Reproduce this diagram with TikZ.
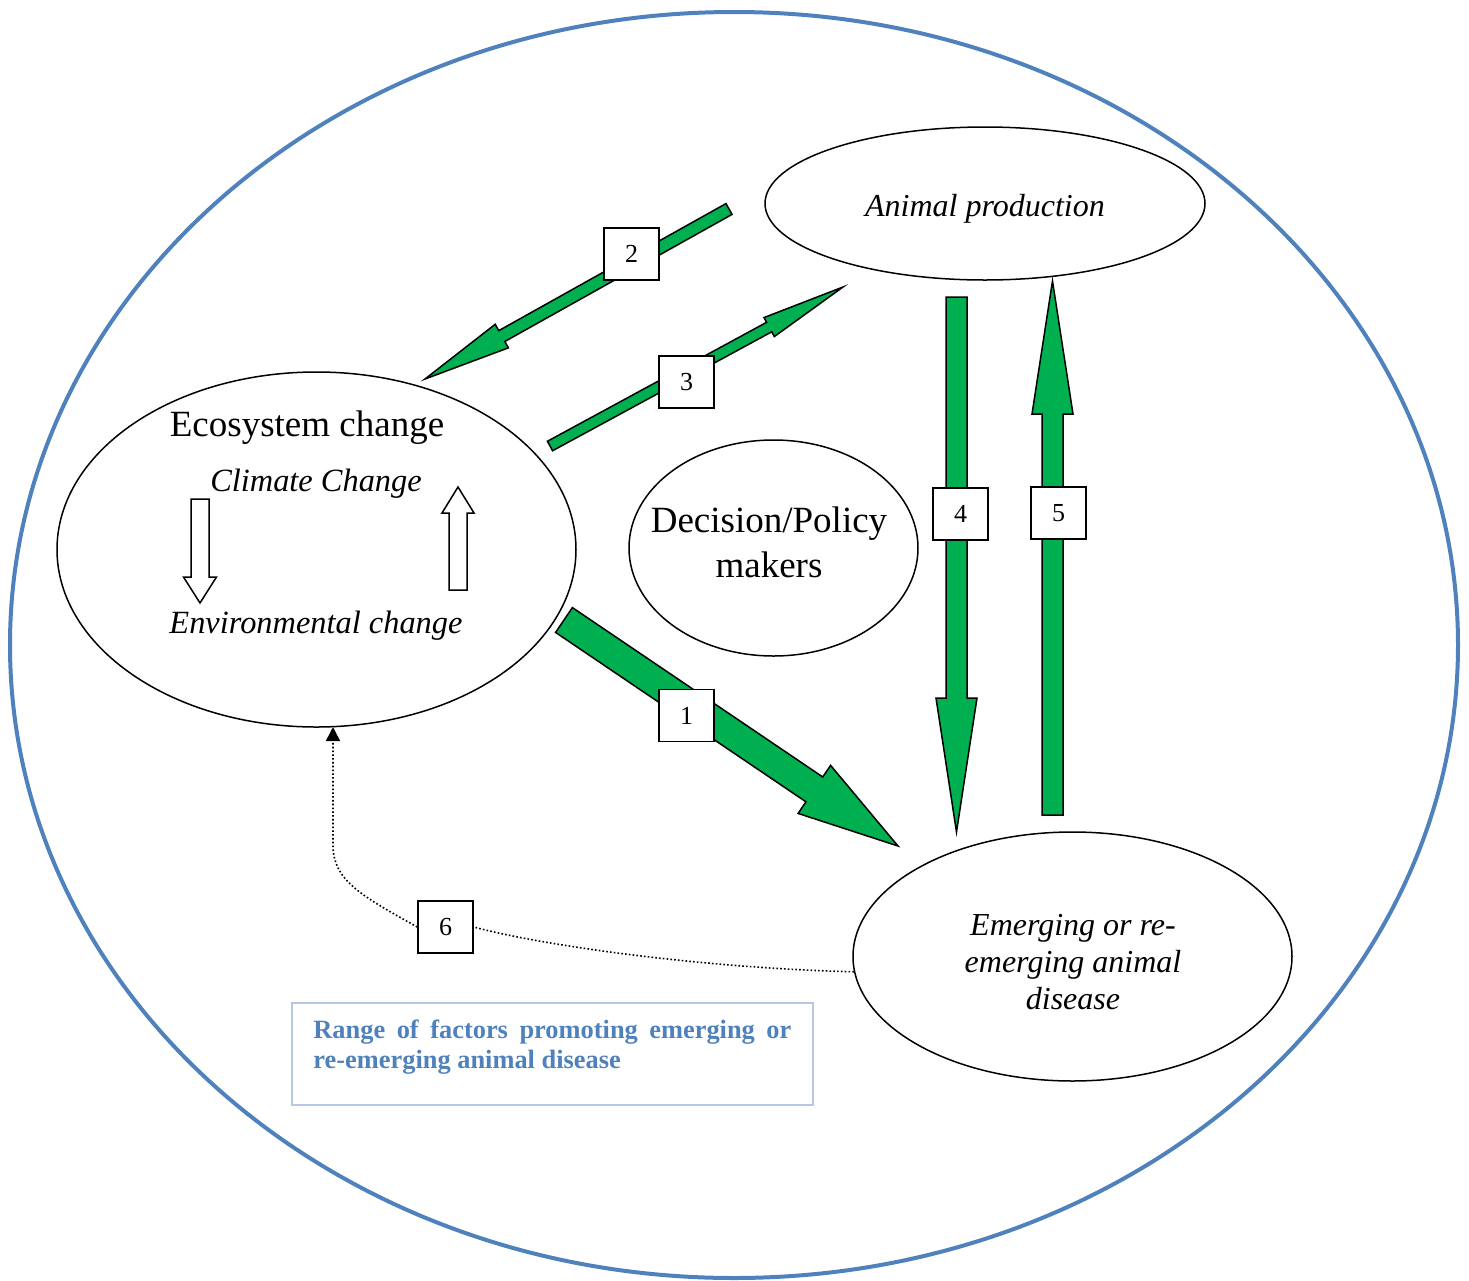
\documentclass[tikz,border=0pt]{standalone}
\usepackage{fontspec}
\setmainfont{Liberation Serif}
\usetikzlibrary{shapes.geometric,calc,arrows.meta}
\definecolor{outerblue}{HTML}{4F81BD}
\definecolor{boxblue}{HTML}{B4C7E7}
\definecolor{textblue}{HTML}{4F81BD}
\definecolor{arrowgreen}{HTML}{00B050}
\tikzset{
  ell/.style={ellipse, draw, line width=0.75pt, inner sep=0pt},
  garr/.style={draw, fill=arrowgreen, line width=0.75pt, line join=miter},
  harr/.style={draw, fill=white, line width=0.75pt, line join=miter},
  numbox/.style={draw, fill=white, line width=0.8pt, minimum width=27.5pt, minimum height=26pt, inner sep=0pt, font=\fontsize{13pt}{15pt}\selectfont},
  bigtxt/.style={font=\fontsize{18.5pt}{22.5pt}\selectfont, align=center, inner sep=0pt},
  ittxt/.style={font=\fontsize{16pt}{18.5pt}\selectfont\itshape, align=center, inner sep=0pt},
  smit/.style={font=\fontsize{16.2pt}{18pt}\selectfont\itshape, inner sep=0pt},
  dotline/.style={line width=0.8pt, dash pattern=on 0.8pt off 1.1pt},
}
% #1 style, #2 tail, #3 tip, #4 shaft half width, #5 head half width, #6 head length
\newcommand\blockarrow[6]{%
  \path ($(#3)!#6!(#2)$) coordinate (ba-b);
  \draw[#1] ($(#2)!#4!90:(#3)$) -- ($(ba-b)!#4!90:(#3)$) -- ($(ba-b)!#5!90:(#3)$) -- (#3)
    -- ($(ba-b)!#5!-90:(#3)$) -- ($(ba-b)!#4!-90:(#3)$) -- ($(#2)!#4!-90:(#3)$) -- cycle;
}
\begin{document}
\begin{tikzpicture}[x=0.5pt,y=-0.5pt]
\useasboundingbox (0,0) rectangle (1469,1281);
% outer ellipse
\node[ellipse, draw=outerblue, line width=2pt, minimum width=724pt, minimum height=633pt, inner sep=0pt] (outer) at (734,645) {};
% main ellipses
\node[ell, minimum width=220pt, minimum height=76.5pt] (ap) at (985,203.5) {};
\node[ittxt] at (985,209) {Animal production};
\node[ell, minimum width=259.5pt, minimum height=177.5pt] (eco) at (316.5,549.5) {};
\node[bigtxt] (ecot) at (307,428) {Ecosystem change};
\node[smit] (cc) at (316,484) {Climate Change};
\node[smit] (ec) at (316,626) {Environmental change};
\node[ell, minimum width=144.5pt, minimum height=108pt] (dec) at (773.5,548) {};
\node[bigtxt] at (769,542) {Decision/Policy\\makers};
\node[ell, minimum width=219.5pt, minimum height=124.5pt] (em) at (1072.5,956.5) {};
\node[ittxt] at (1073,962) {Emerging or re-\\emerging animal\\disease};
% hollow arrows
\coordinate (h1t) at (200,499); \coordinate (h1p) at (200,603);
\coordinate (h2t) at (458,590); \coordinate (h2p) at (458,487);
\blockarrow{harr}{h1t}{h1p}{4.5pt}{8.25pt}{13pt}
\blockarrow{harr}{h2t}{h2p}{4.5pt}{8pt}{13pt}
% green arrows
\coordinate (a1t) at (564,620); \coordinate (a1p) at (898,846);
\coordinate (a2t) at (729,209); \coordinate (a2p) at (425,379);
\coordinate (a3t) at (550,446); \coordinate (a3p) at (843,287);
\coordinate (a4t) at (956.5,297); \coordinate (a4p) at (956.5,832);
\coordinate (a5t) at (1052.5,815); \coordinate (a5p) at (1052.5,281);
\blockarrow{garr}{a1t}{a1p}{7.5pt}{14.5pt}{50.5pt}
\blockarrow{garr}{a2t}{a2p}{3.1pt}{6.75pt}{44pt}
\blockarrow{garr}{a3t}{a3p}{2.7pt}{5.4pt}{42pt}
\blockarrow{garr}{a4t}{a4p}{5.25pt}{10.25pt}{67pt}
\blockarrow{garr}{a5t}{a5p}{5.25pt}{10.25pt}{66.5pt}
% number boxes
\node[numbox] (b1) at (686.5,715.5) {1};
\node[numbox] (b2) at (631.5,254) {2};
\node[numbox] (b3) at (686.5,382) {3};
\node[numbox] (b4) at (960.5,514) {4};
\node[numbox] (b5) at (1058.5,513) {5};
\node[numbox] (b6) at (445.5,927) {6};
% dotted feedback
\coordinate (t6) at (333,727);
\draw[dotline] (em.184) .. controls (700,968) and (540,945) .. (b6.east);
\draw[dotline, -{Triangle[width=7pt,length=7pt]}] (b6.west) .. controls (360,895) and (333,880) .. (333,845) -- (t6);
% text box
\node[draw=boxblue, line width=1pt, minimum width=260.5pt, minimum height=51pt, anchor=north west, inner sep=0pt] (tb) at (291,1002) {};
\node[anchor=north west, inner sep=0pt, text width=239pt, align=justify, text=textblue, font=\fontsize{13.2pt}{15pt}\selectfont\bfseries] (tbt) at (313,1019) {Range of factors promoting emerging or \mbox{re-emerging} animal disease};
\end{tikzpicture}
\end{document}
